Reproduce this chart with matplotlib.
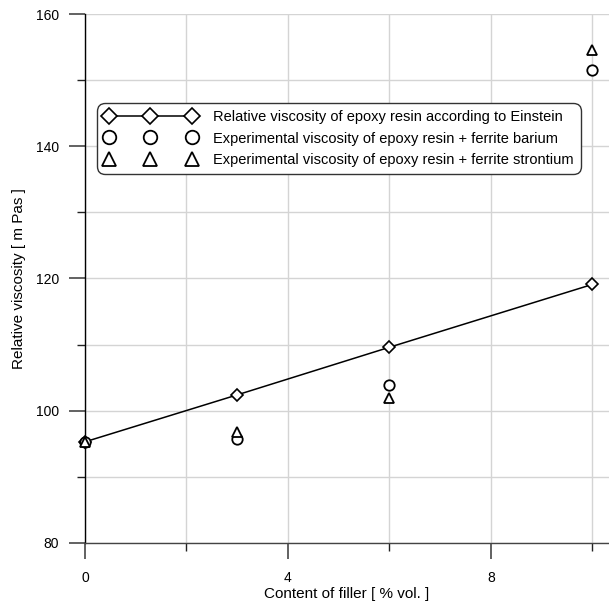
import matplotlib
matplotlib.use("Agg")
import matplotlib.pyplot as plt
from matplotlib.ticker import MultipleLocator

plt.rcParams['font.family'] = ['Liberation Sans', 'DejaVu Sans']

filler = [0, 3, 6, 10]
einstein = [95.3, 102.4, 109.6, 119.1]
barium = [95.3, 95.8, 103.9, 151.5]
strontium = [95.3, 96.8, 102.0, 154.6]

labels = ["Relative viscosity of epoxy resin according to Einstein",
          "Experimental viscosity of epoxy resin + ferrite barium",
          "Experimental viscosity of epoxy resin + ferrite strontium"]

fig = plt.figure(figsize=(6.09, 6.02), dpi=100)
ax = fig.add_axes([85/609, 59/602, (609-85)/609, (543-14)/602])

ax.plot(filler, einstein, color='black', lw=1.1, marker='D', ms=6.5,
        mfc='white', mec='black', mew=1.2, label=labels[0], zorder=3,
        clip_on=False)
ax.plot(filler, barium, ls='none', marker='o', ms=7.5,
        mfc='white', mec='black', mew=1.3, label=labels[1], zorder=3,
        clip_on=False)
ax.plot(filler, strontium, ls='none', marker='^', ms=7.5,
        mfc='white', mec='black', mew=1.3, label=labels[2], zorder=3,
        clip_on=False)

ax.set_xlim(0, 10.33)
ax.set_ylim(80, 160)
ax.xaxis.set_major_locator(MultipleLocator(4))
ax.xaxis.set_minor_locator(MultipleLocator(2))
ax.yaxis.set_major_locator(MultipleLocator(20))
ax.yaxis.set_minor_locator(MultipleLocator(10))
ax.grid(which='both', color='#d4d4d4', lw=1.0, zorder=0)
ax.set_axisbelow(True)

for s in ['top', 'right']:
    ax.spines[s].set_visible(False)
ax.spines['left'].set_color('black')
ax.spines['bottom'].set_color('#444444')
ax.spines['left'].set_linewidth(1.0)
ax.spines['bottom'].set_linewidth(1.0)

ax.tick_params(which='major', direction='out', length=11.5, width=1.3,
               color='#555555', labelsize=10, pad=7)
ax.tick_params(which='minor', direction='out', length=5.8, width=1.0,
               color='#222222')
ax.tick_params(axis='x', which='major', pad=9)

ax.set_xlabel("Content of filler [ % vol. ]", fontsize=11, labelpad=1)
ax.set_ylabel("Relative viscosity [ m Pas ]", fontsize=11, labelpad=7)

leg = ax.legend(loc='upper left', bbox_to_anchor=(97/609, 1-103/602),
                bbox_transform=fig.transFigure, borderaxespad=0,
                numpoints=3, markerscale=1.3, handlelength=6.3,
                handletextpad=1.15, borderpad=0.5, labelspacing=0.5,
                fontsize=10.5, fancybox=True, framealpha=1,
                edgecolor='#333333')
leg.get_frame().set_linewidth(1.0)
leg.get_frame().set_boxstyle("round", pad=0, rounding_size=0.55)

fig.savefig("out.png", dpi=100)
